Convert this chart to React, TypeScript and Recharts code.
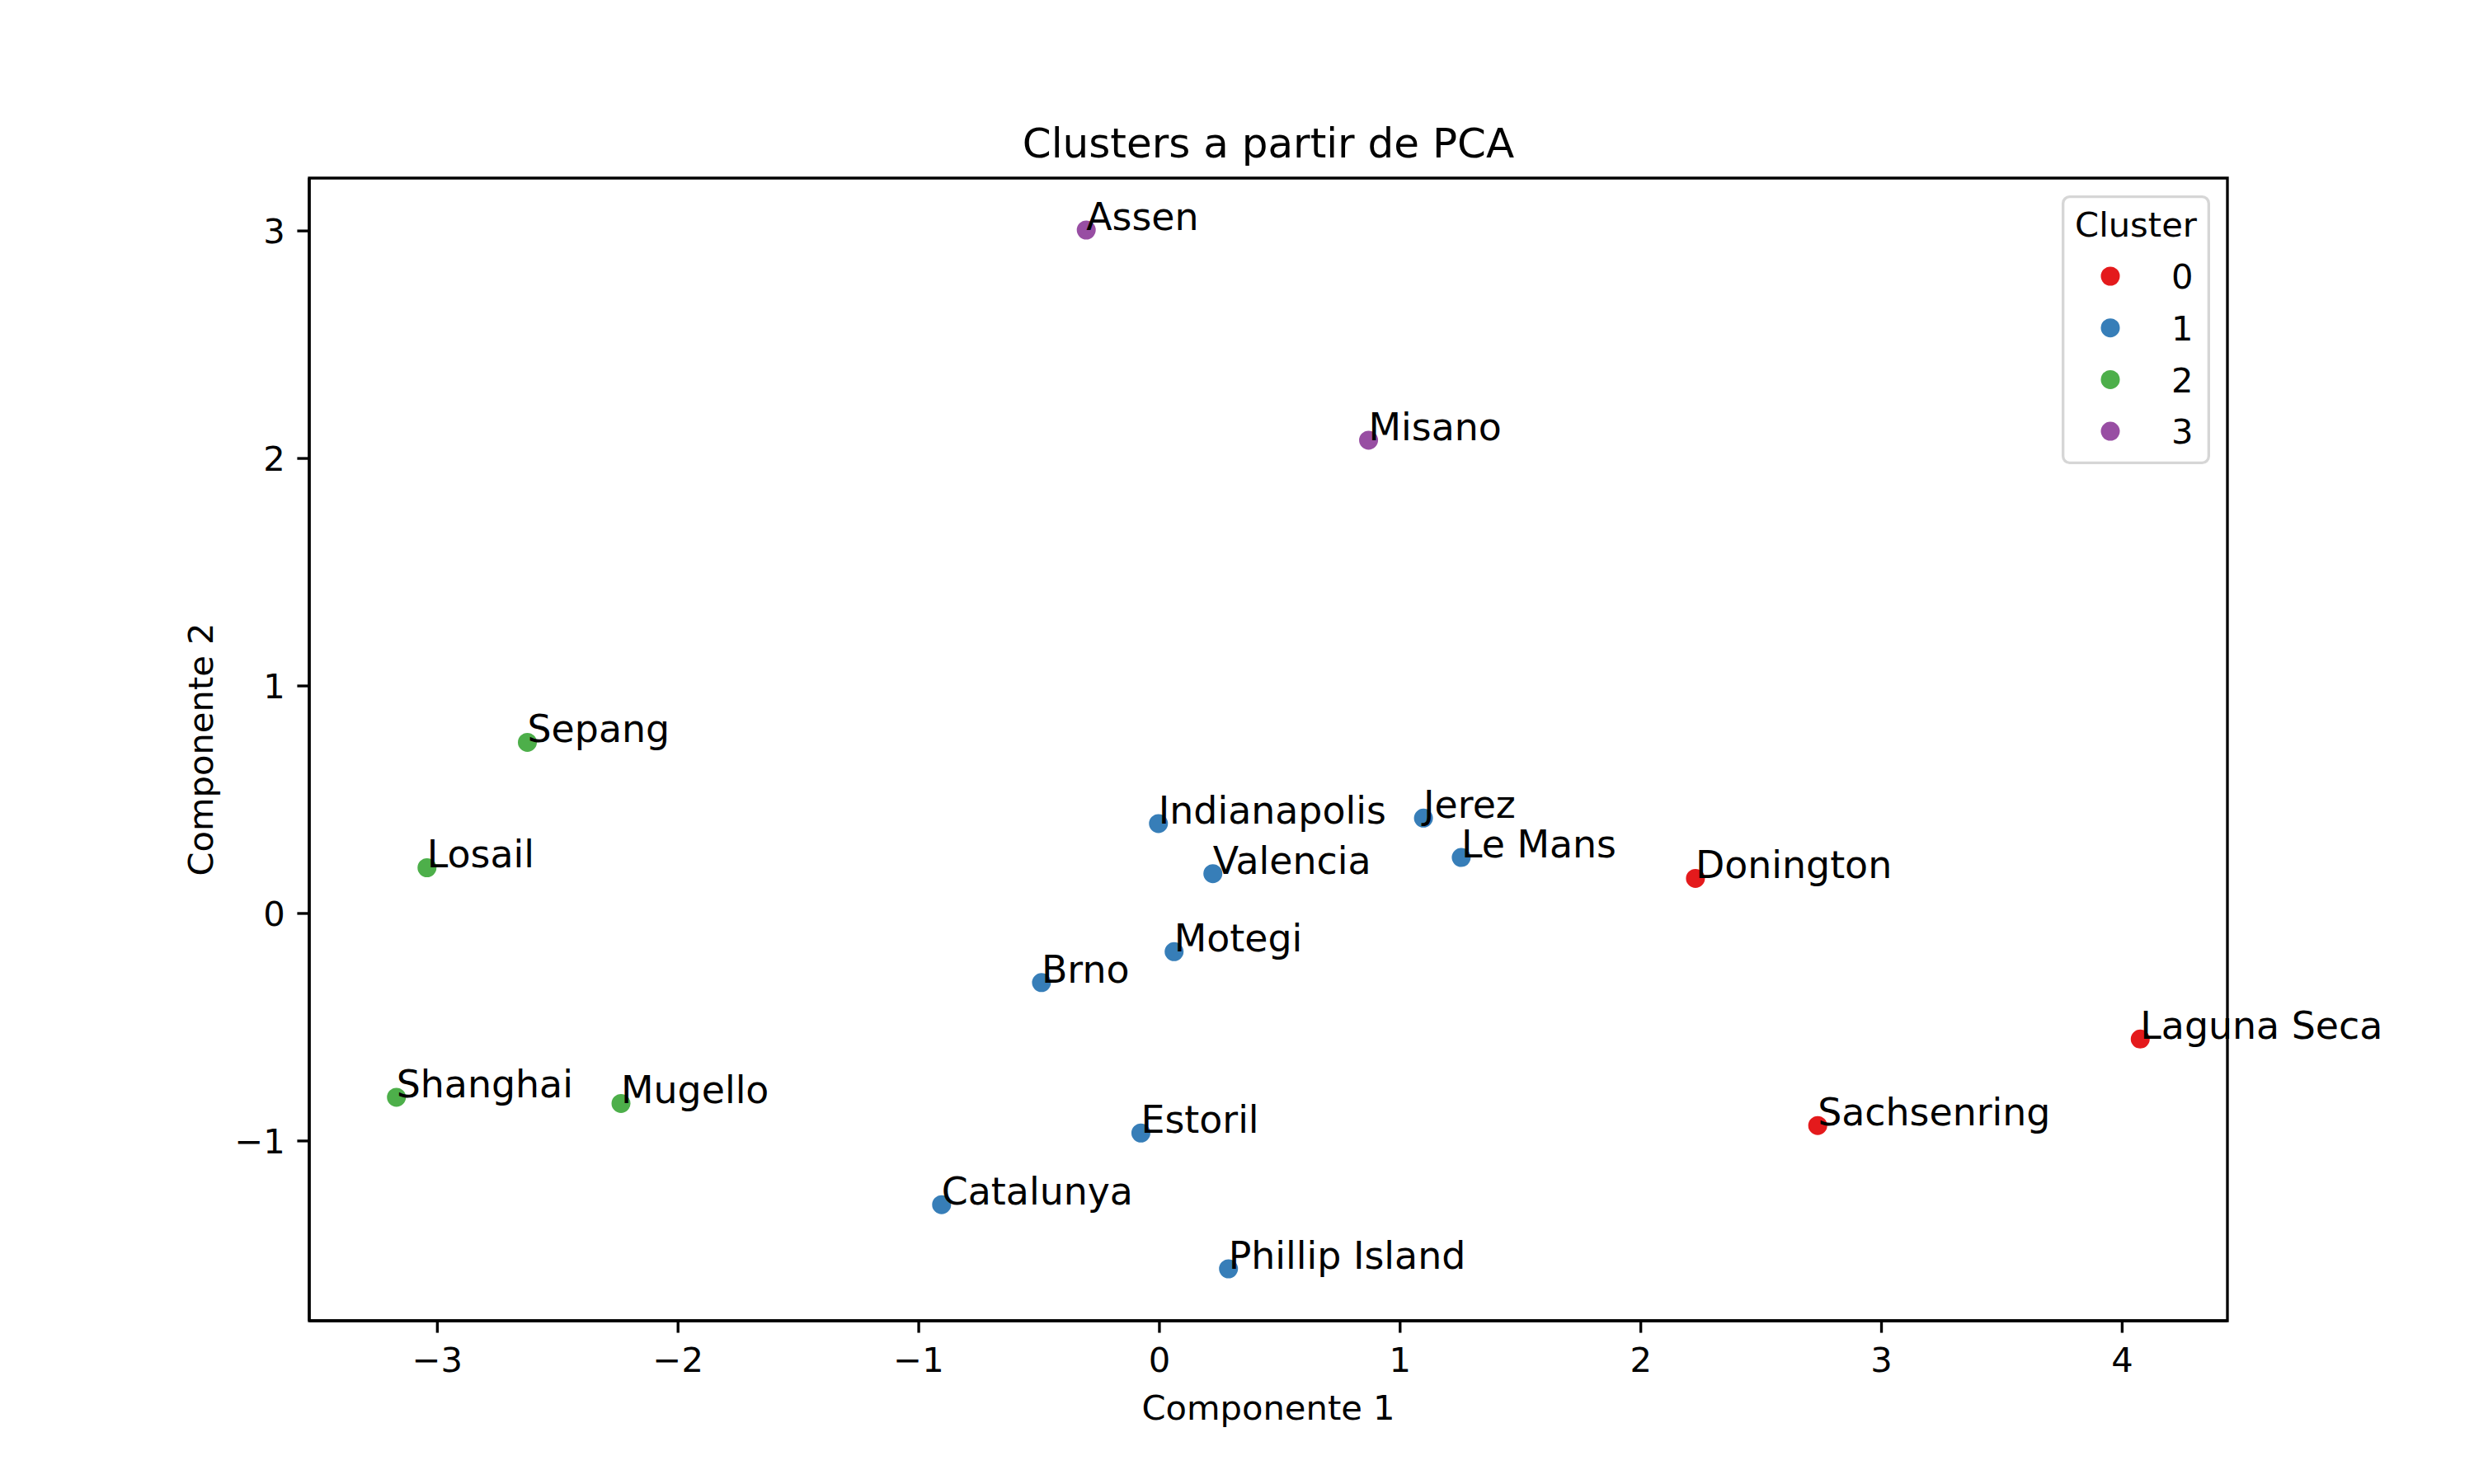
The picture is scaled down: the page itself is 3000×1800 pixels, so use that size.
import React from 'react'
import { ScatterChart, Scatter, XAxis, YAxis, ReferenceArea, Legend, Label, Customized } from 'recharts'

// PCA scores per circuit
const circuits = [
  'Donington', 'Sachsenring', 'Laguna Seca',
  'Indianapolis', 'Jerez', 'Le Mans', 'Valencia', 'Motegi', 'Brno', 'Estoril', 'Catalunya', 'Phillip Island',
  'Sepang', 'Losail', 'Shanghai', 'Mugello',
  'Assen', 'Misano',
]
const comp1 = [2.227, 2.735, 4.075, -0.004, 1.097, 1.254, 0.222, 0.061, -0.49, -0.077, -0.905, 0.287, -2.626, -3.043, -3.17, -2.237, -0.304, 0.869]
const comp2 = [0.154, -0.932, -0.552, 0.395, 0.419, 0.246, 0.175, -0.168, -0.304, -0.965, -1.28, -1.562, 0.752, 0.201, -0.808, -0.835, 3.004, 2.08]
const clusterOf = [0, 0, 0, 1, 1, 1, 1, 1, 1, 1, 1, 1, 2, 2, 2, 2, 3, 3]

const clusterIds = ['0', '1', '2', '3']
const clusterColors = ['#e41a1c', '#377eb8', '#4daf4a', '#984ea3']

const xTicks = [-3, -2, -1, 0, 1, 2, 3, 4]
const yTicks = [-1, 0, 1, 2, 3]

const PT = 300 / 72
const TICK_FS = 10 * PT
const TITLE_FS = 12 * PT
const ANN_FS = 11 * PT
const LINE_W = 0.8 * PT

const W = 3000
const H = 1800
const PLOT_LEFT = 375
const PLOT_RIGHT = 2701
const PLOT_TOP = 216
const PLOT_BOTTOM = 1602

const points = circuits.map((name, i) => ({ name, x: comp1[i], y: comp2[i], cluster: clusterOf[i] }))

// matplotlib-style 5% margins around the data
const padded = (vals: number[]) => {
  const lo = Math.min(...vals)
  const hi = Math.max(...vals)
  const m = (hi - lo) * 0.05
  return [lo - m, hi + m] as [number, number]
}
const xDomain = padded(comp1)
const yDomain = padded(comp2)

const fmt = (v: number) => (v < 0 ? '\u2212' + Math.abs(v) : String(v))

const LEG_X = 2500
const LEG_Y = 237
const LEG_W = 180
const LEG_H = 326

const renderLegend = (props: any) => {
  const payload = (props.payload || []).filter((p: any) => p.type !== 'none')
  return (
    <svg width={LEG_W} height={LEG_H} style={{ display: 'block', fontFamily: 'DejaVu Sans' }}>
      <rect x={LINE_W / 2} y={LINE_W / 2} width={LEG_W - LINE_W} height={LEG_H - LINE_W} rx={8}
        fill="white" fillOpacity={0.8} stroke="#cccccc" strokeOpacity={0.8} strokeWidth={LINE_W} />
      <text x={LEG_W / 2} y={50} textAnchor="middle" fontSize={TICK_FS} fill="black">Cluster</text>
      {clusterIds.map((id, i) => (
        <g key={id}>
          <circle cx={59} cy={98 + i * 62.7} r={11.5} fill={payload[i]?.color ?? clusterColors[i]} />
          <text x={133} y={98 + i * 62.7 + 15.2} fontSize={TICK_FS} fill="black">{id}</text>
        </g>
      ))}
    </svg>
  )
}

export default function App() {
  return (
    <div style={{ position: 'absolute', left: 0, top: 0, width: W, height: H, background: 'white', fontFamily: 'DejaVu Sans' }}>
      <ScatterChart width={W} height={H} margin={{ top: PLOT_TOP, right: W - PLOT_RIGHT, bottom: 0, left: 0 }}>
        <XAxis
          type="number"
          dataKey="x"
          domain={xDomain}
          ticks={xTicks}
          tickFormatter={fmt}
          height={H - PLOT_BOTTOM}
          tickSize={3.5 * PT}
          tickMargin={17.8}
          tick={{ fill: 'black', fontSize: TICK_FS }}
          tickLine={{ stroke: 'black', strokeWidth: LINE_W }}
          axisLine={{ stroke: 'black', strokeWidth: LINE_W }}
        >
          <Label
            content={() => (
              <text x={(PLOT_LEFT + PLOT_RIGHT) / 2} y={1722} textAnchor="middle" fontSize={TICK_FS} fill="black">
                Componente 1
              </text>
            )}
          />
        </XAxis>
        <YAxis
          type="number"
          dataKey="y"
          domain={yDomain}
          ticks={yTicks}
          tickFormatter={fmt}
          width={PLOT_LEFT}
          tickSize={3.5 * PT}
          tickMargin={3.5 * PT}
          tick={{ fill: 'black', fontSize: TICK_FS }}
          tickLine={{ stroke: 'black', strokeWidth: LINE_W }}
          axisLine={{ stroke: 'black', strokeWidth: LINE_W }}
        >
          <Label
            content={() => (
              <text transform={`translate(258, ${(PLOT_TOP + PLOT_BOTTOM) / 2}) rotate(-90)`} textAnchor="middle" fontSize={TICK_FS} fill="black">
                Componente 2
              </text>
            )}
          />
        </YAxis>
        <ReferenceArea x1={xDomain[0]} x2={xDomain[1]} y1={yDomain[0]} y2={yDomain[1]}
          fill="none" fillOpacity={0} stroke="black" strokeWidth={LINE_W} />
        {clusterIds.map((id, c) => (
          <Scatter
            key={id}
            name={id}
            data={points.filter(p => p.cluster === c)}
            fill={clusterColors[c]}
            isAnimationActive={false}
            shape={(p: any) => (
              <circle cx={p.cx} cy={p.cy} r={12.5} fill={clusterColors[c]} stroke="white" strokeWidth={2} />
            )}
          />
        ))}
        <Scatter
          name="labels"
          data={points}
          legendType="none"
          isAnimationActive={false}
          shape={(p: any) => (
            <text x={p.cx} y={p.cy} fontSize={ANN_FS} fill="black">{p.payload.name}</text>
          )}
        />
        <Legend
          layout="vertical"
          align="center"
          verticalAlign="middle"
          content={renderLegend}
          wrapperStyle={{ left: LEG_X, top: LEG_Y, width: LEG_W, height: LEG_H }}
        />
        <Customized
          component={() => (
            <text x={(PLOT_LEFT + PLOT_RIGHT) / 2} y={191} textAnchor="middle" fontSize={TITLE_FS} fill="black">
              Clusters a partir de PCA
            </text>
          )}
        />
      </ScatterChart>
    </div>
  )
}
